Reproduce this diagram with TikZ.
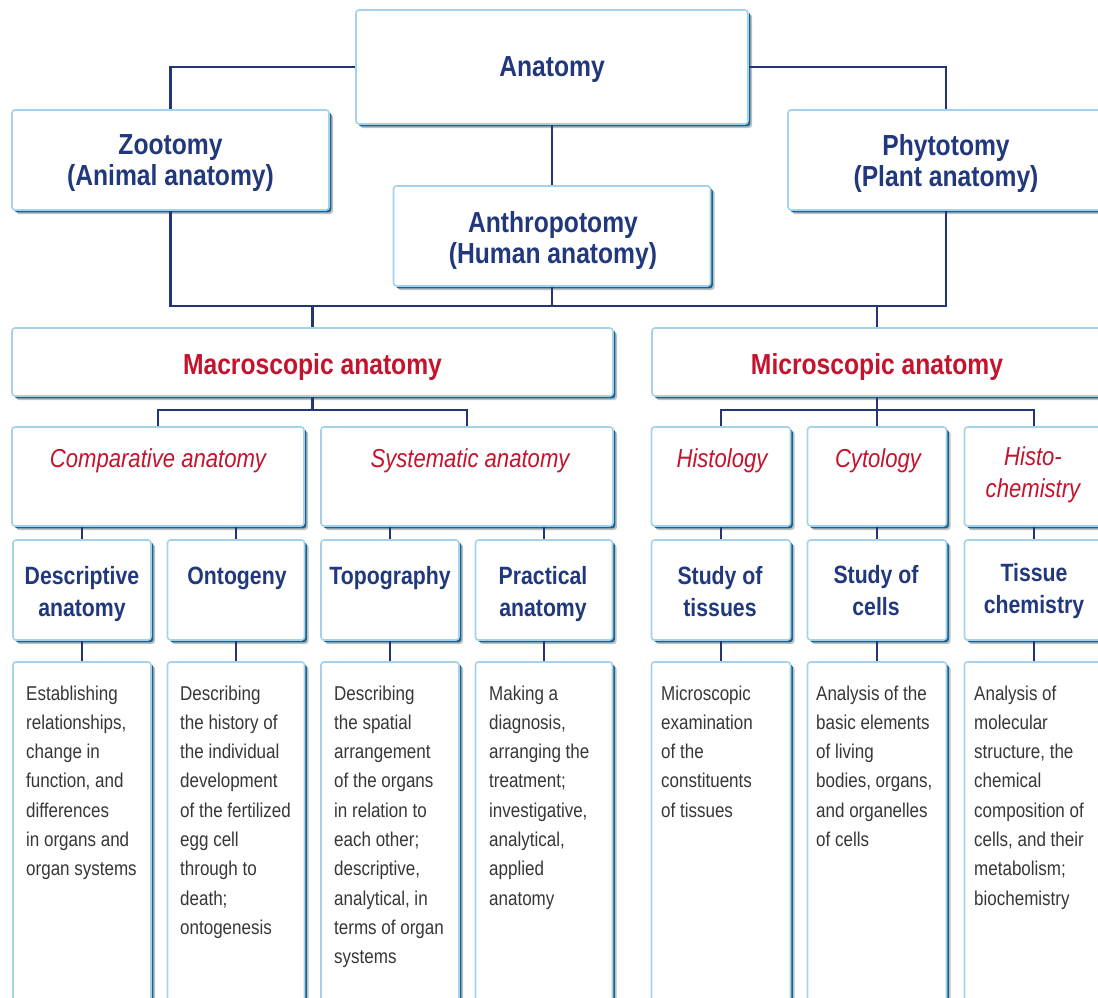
\documentclass[tikz,border=0pt]{standalone}
\usepackage{fontspec}
\setmainfont{Liberation Sans}[FakeStretch=0.85]
\usetikzlibrary{shadows,calc}
\definecolor{navy}{RGB}{33,56,125}
\definecolor{linenavy}{RGB}{35,52,122}
\definecolor{titlered}{RGB}{196,20,45}
\definecolor{bodygray}{RGB}{55,55,55}
\definecolor{lightblue}{RGB}{165,210,235}
\definecolor{darkedge}{RGB}{22,98,148}
\tikzset{
  box/.style={draw=lightblue, line width=1.6pt, fill=white, rounded corners=3pt, inner sep=0pt,
    general shadow={fill=black, opacity=0.25, shadow xshift=4pt, shadow yshift=-4pt},
    general shadow={fill=darkedge, shadow xshift=2.3pt, shadow yshift=-2.3pt}},
  conn/.style={draw=linenavy, line width=2.6pt},
  toptitle/.style={font=\bfseries\fontsize{29}{31}\selectfont, text=navy, align=flush center, inner sep=0pt},
  redtitle/.style={font=\bfseries\fontsize{29}{31}\selectfont, text=titlered, inner sep=0pt},
  subtitle/.style={font=\itshape\fontsize{26}{32}\selectfont, text=titlered, anchor=base, align=flush center, inner sep=0pt, text width=140pt},
  lvlthree/.style={font=\bfseries\fontsize{25}{32}\selectfont, text=navy, anchor=base, align=flush center, inner sep=0pt, text width=140pt},
  body/.style={font=\fontsize{20}{29.3}\selectfont, text=bodygray, anchor=base west, align=flush left, inner sep=0pt, text width=135pt},
}
\begin{document}
\begin{tikzpicture}[x=1pt,y=-1pt]
\useasboundingbox (0,0) rectangle (1098,997);
\clip (0,0) rectangle (1098,997);
\fill[white] (0,0) rectangle (1098,997);
% coordinates of buses
\coordinate (bus1) at (0,306);
\coordinate (bus2) at (0,410);
% boxes
\node[box, minimum width=392pt, minimum height=114pt] (A) at (552,67) {};
\node[box, minimum width=317pt, minimum height=100pt] (Z) at (170.5,160) {};
\node[box, minimum width=316pt, minimum height=100pt] (P) at (946,160) {};
\node[box, minimum width=317pt, minimum height=100pt] (H) at (552,236) {};
\node[box, minimum width=601pt, minimum height=68pt] (Mac) at (312.5,362) {};
\node[box, minimum width=450pt, minimum height=68pt] (Mic) at (877,362) {};
% row 2
\node[box, minimum width=292pt, minimum height=99pt] (Comp) at (158,476.5) {};
\node[box, minimum width=292pt, minimum height=99pt] (Syst) at (467,476.5) {};
\node[box, minimum width=139pt, minimum height=99pt] (Hist) at (721,476.5) {};
\node[box, minimum width=139pt, minimum height=99pt] (Cyto) at (877,476.5) {};
\node[box, minimum width=139pt, minimum height=99pt] (HCh) at (1034,476.5) {};
% row 3
\node[box, minimum width=138pt, minimum height=100pt] (Desc) at (82,590) {};
\node[box, minimum width=137pt, minimum height=100pt] (Onto) at (236,590) {};
\node[box, minimum width=138pt, minimum height=100pt] (Topo) at (390,590) {};
\node[box, minimum width=137pt, minimum height=100pt] (Prac) at (544,590) {};
\node[box, minimum width=139pt, minimum height=100pt] (Tiss) at (721,590) {};
\node[box, minimum width=139pt, minimum height=100pt] (Cell) at (877,590) {};
\node[box, minimum width=139pt, minimum height=100pt] (TChe) at (1034,590) {};
% row 4
\node[box, minimum width=138pt, minimum height=350pt] (DescT) at (82,837) {};
\node[box, minimum width=137pt, minimum height=350pt] (OntoT) at (236,837) {};
\node[box, minimum width=138pt, minimum height=350pt] (TopoT) at (390,837) {};
\node[box, minimum width=137pt, minimum height=350pt] (PracT) at (544,837) {};
\node[box, minimum width=139pt, minimum height=350pt] (TissT) at (721,837) {};
\node[box, minimum width=139pt, minimum height=350pt] (CellT) at (877,837) {};
\node[box, minimum width=139pt, minimum height=350pt] (TCheT) at (1034,837) {};
% connectors
\draw[conn] (A.west) -| (Z.north);
\draw[conn] (A.east) -| (P.north);
\draw[conn] (A.south) -- (H.north);
\draw[conn] (Z.south) -- (Z.south |- bus1) -- (P.south |- bus1) -- (P.south);
\draw[conn] (H.south) -- (H.south |- bus1);
\draw[conn] (Mac.north |- bus1) -- (Mac.north);
\draw[conn] (Mic.north |- bus1) -- (Mic.north);
\draw[conn] (Mac.south) -- (Mac.south |- bus2);
\draw[conn] (Comp.north) -- (Comp.north |- bus2) -- (Syst.north |- bus2) -- (Syst.north);
\draw[conn] (Mic.south) -- (Cyto.north);
\draw[conn] (Hist.north) -- (Hist.north |- bus2) -- (HCh.north |- bus2) -- (HCh.north);
\draw[conn] (Desc.north |- Comp.south) -- (Desc.north);
\draw[conn] (Onto.north |- Comp.south) -- (Onto.north);
\draw[conn] (Topo.north |- Syst.south) -- (Topo.north);
\draw[conn] (Prac.north |- Syst.south) -- (Prac.north);
\draw[conn] (Hist.south) -- (Tiss.north);
\draw[conn] (Cyto.south) -- (Cell.north);
\draw[conn] (HCh.south) -- (TChe.north);
\draw[conn] (Desc.south) -- (DescT.north);
\draw[conn] (Onto.south) -- (OntoT.north);
\draw[conn] (Topo.south) -- (TopoT.north);
\draw[conn] (Prac.south) -- (PracT.north);
\draw[conn] (Tiss.south) -- (TissT.north);
\draw[conn] (Cell.south) -- (CellT.north);
\draw[conn] (TChe.south) -- (TCheT.north);
% top titles
\node[toptitle] (tA) at (552,70) {Anatomy};
\node[toptitle] (tZ) at (170.5,163) {Zootomy\\(Animal anatomy)};
\node[toptitle] (tP) at (946,163) {Phytotomy\\(Plant anatomy)};
\node[toptitle] (tH) at (553,240) {Anthropotomy\\(Human anatomy)};
\node[redtitle] (tMac) at (312.5,367) {Macroscopic anatomy};
\node[redtitle] (tMic) at (877,367) {Microscopic anatomy};
% row 2 texts
\node[subtitle, text width=290pt] (tComp) at (158,467) {Comparative anatomy};
\node[subtitle, text width=290pt] (tSyst) at (470,467) {Systematic anatomy};
\node[subtitle] (tHist) at (722,467) {Histology};
\node[subtitle] (tCyto) at (878,467) {Cytology};
\node[subtitle] (tHCh) at (1033,465) {Histo-\\chemistry};
% row 3 texts
\node[lvlthree] (tDesc) at (82,584) {Descriptive\\anatomy};
\node[lvlthree] (tOnto) at (237,584) {Ontogeny};
\node[lvlthree] (tTopo) at (390,584) {Topography};
\node[lvlthree] (tPrac) at (543,584) {Practical\\anatomy};
\node[lvlthree] (tTiss) at (720,584) {Study of\\tissues};
\node[lvlthree] (tCell) at (876,583) {Study of\\cells};
\node[lvlthree] (tTChe) at (1034,581) {Tissue\\chemistry};
% row 4 texts
\node[body] (bDesc) at (26,700) {Establishing\\relationships,\\change in\\function, and\\differences\\in organs and\\organ systems};
\node[body] (bOnto) at (180,700) {Describing\\the history of\\the individual\\development\\of the fertilized\\egg cell\\through to\\death;\\ontogenesis};
\node[body] (bTopo) at (334,700) {Describing\\the spatial\\arrangement\\of the organs\\in relation to\\each other;\\descriptive,\\analytical, in\\terms of organ\\systems};
\node[body] (bPrac) at (489,700) {Making a\\diagnosis,\\arranging the\\treatment;\\investigative,\\analytical,\\applied\\anatomy};
\node[body] (bTiss) at (661,700) {Microscopic\\examination\\of the\\constituents\\of tissues};
\node[body] (bCell) at (816,700) {Analysis of the\\basic elements\\of living\\bodies, organs,\\and organelles\\of cells};
\node[body] (bTChe) at (974,700) {Analysis of\\molecular\\structure, the\\chemical\\composition of\\cells, and their\\metabolism;\\biochemistry};
\end{tikzpicture}
\end{document}
